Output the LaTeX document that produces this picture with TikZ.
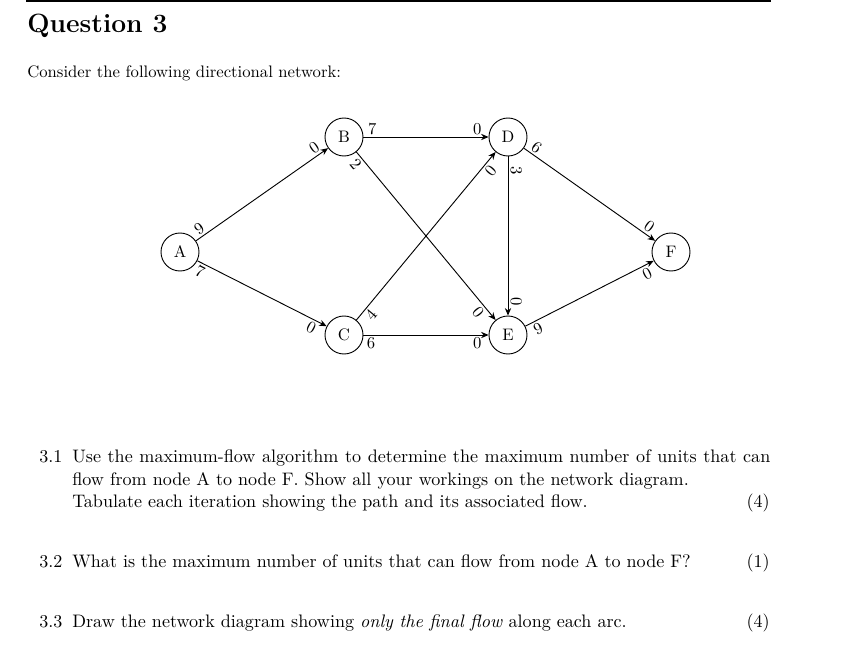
\documentclass[tikz,border=0pt]{standalone}
\usetikzlibrary{arrows.meta}
\begin{document}
\begin{tikzpicture}[x=0.6pt,y=-0.6pt,
  vtx/.style={circle,draw,line width=0.55pt,minimum size=22.8pt,inner sep=0pt,font=\fontsize{10}{12}\selectfont},
  arc/.style={-{Stealth[length=4.5pt,width=3.8pt]},line width=0.55pt},
  lab/.style={sloped,inner sep=1.2pt,font=\fontsize{10}{12}\selectfont},
  txt/.style={anchor=base west,inner sep=0pt,font=\fontsize{10.85}{13}\selectfont},
  marks/.style={anchor=base east,inner sep=0pt,font=\fontsize{10.85}{13}\selectfont}]
\useasboundingbox (0,0) rectangle (846,666);
\draw[line width=1.1pt] (26,1) -- (771,1);
\node[anchor=base west,inner sep=0pt,font=\fontsize{15.85}{19}\selectfont\bfseries] (q) at (27,33) {Question 3};
\node[anchor=base west,inner sep=0pt,font=\fontsize{10}{12}\selectfont] (intro) at (27,78) {Consider the following directional network:};

\node[vtx] (A) at (180,252) {A};
\node[vtx] (B) at (344,137) {B};
\node[vtx] (C) at (344,335) {C};
\node[vtx] (D) at (508,137) {D};
\node[vtx] (E) at (508,335) {E};
\node[vtx] (F) at (671,252) {F};

\draw[arc] (A) -- node[lab,pos=0.06,above] {9} node[lab,pos=0.93,above] {0} (B);
\draw[arc] (A) -- node[lab,pos=0.05,below] {7} node[lab,pos=0.91,below] {0} (C);
\draw[arc] (B) -- node[lab,pos=0.07,above] {7} node[lab,pos=0.91,above] {0} (D);
\draw[arc] (B) -- node[lab,pos=0.04,below] {2} node[lab,pos=0.92,below] {0} (E);
\draw[arc] (C) -- node[lab,pos=0.06,below] {4} node[lab,pos=0.92,below] {0} (D);
\draw[arc] (C) -- node[lab,pos=0.06,below] {6} node[lab,pos=0.91,below] {0} (E);
\draw[arc] (D) -- node[lab,pos=0.09,above] {3} node[lab,pos=0.91,above] {0} (E);
\draw[arc] (D) -- node[lab,pos=0.06,above] {6} node[lab,pos=0.92,above] {0} (F);
\draw[arc] (E) -- node[lab,pos=0.07,below] {9} node[lab,pos=0.92,below] {0} (F);

\node[txt] (n31) at (39,462) {3.1};
\node[txt] (l1) at (72,462) {\makebox[418.8pt][s]{Use the maximum-flow algorithm to determine the maximum number of units that can}};
\node[txt] (l2) at (72,485) {flow from node A to node F. Show all your workings on the network diagram.};
\node[txt] (l3) at (72,507) {Tabulate each iteration showing the path and its associated flow.};
\node[marks] (m1) at (770,507) {(4)};
\node[txt] (n32) at (39,567) {3.2};
\node[txt] (l4) at (72,567) {What is the maximum number of units that can flow from node A to node F?};
\node[marks] (m2) at (770,567) {(1)};
\node[txt] (n33) at (39,627) {3.3};
\node[txt] (l5) at (72,627) {Draw the network diagram showing \emph{only the final flow} along each arc.};
\node[marks] (m3) at (770,627) {(4)};
\end{tikzpicture}
\end{document}
